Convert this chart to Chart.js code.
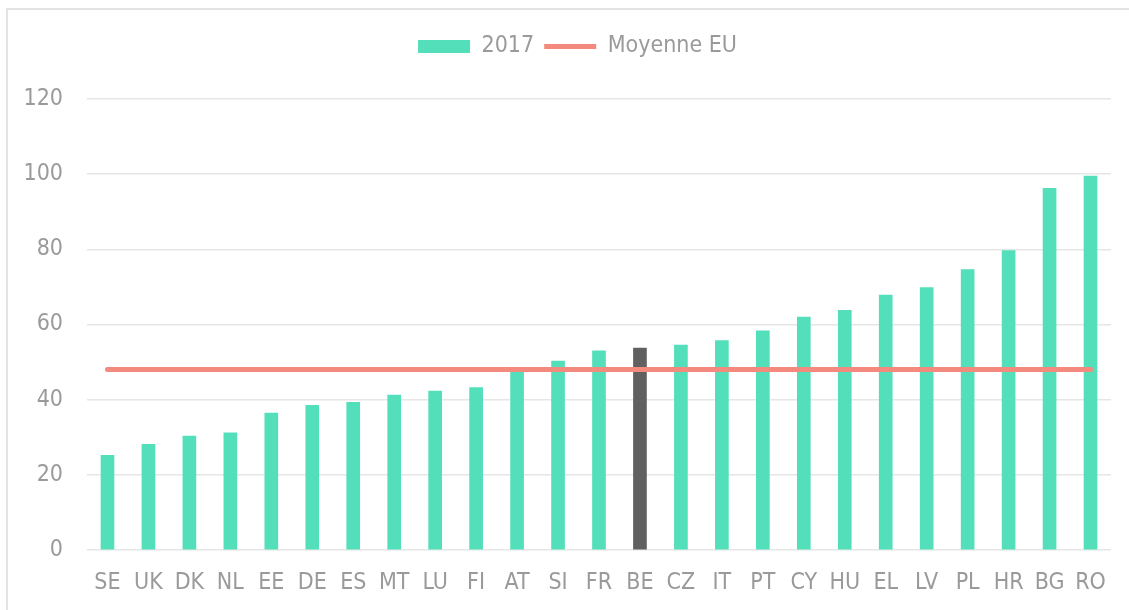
<!DOCTYPE html>
<html>
<head>
<meta charset="utf-8">
<title>2017 - Moyenne EU</title>
<script src="https://cdn.jsdelivr.net/npm/chart.js@4/dist/chart.umd.min.js"></script>
<style>
    html, body { margin: 0; padding: 0; background: #fff; overflow: hidden; }
    canvas { display: block; }
</style>
</head>
<body>
<canvas id="chart" width="1129" height="610"></canvas>
<script>
// --- DATA ---
const countries = ['SE', 'UK', 'DK', 'NL', 'EE', 'DE', 'ES', 'MT', 'LU', 'FI', 'AT', 'SI', 'FR',
    'BE', 'CZ', 'IT', 'PT', 'CY', 'HU', 'EL', 'LV', 'PL', 'HR', 'BG', 'RO'];
const values2017 = [25.2, 28.1, 30.3, 31.2, 36.4, 38.5, 39.3, 41.2, 42.3, 43.2, 47.3, 50.3, 53.0,
    53.7, 54.5, 55.7, 58.3, 62.0, 63.8, 67.8, 69.8, 74.6, 79.7, 96.2, 99.5];
const euAverage = 48.0;
const yTicks = [0, 20, 40, 60, 80, 100, 120];
const highlight = 'BE';

// --- COLOURS ---
const TEAL = '#52dfba';
const GREY_BAR = '#606060';
const SALMON = '#f38a7d';
const TEXT = '#9a9a9a';
const FONT = "'DejaVu Sans Condensed', 'DejaVu Sans', Tahoma, sans-serif";

// extra room under the legend (Excel puts the plot well below it),
// nudge the legend a bit right, and draw the chart frame (cut off right/bottom)
const excelLook = {
    id: 'excelLook',
    beforeInit(chart) {
        const fit = chart.legend.fit;
        chart.legend.fit = function () {
            fit.call(this);
            this.height += 31;
        };
    },
    afterLayout(chart) {
        chart.legend.left += 22;
        chart.legend.right += 22;
    },
    beforeDraw(chart) {
        const c = chart.ctx;
        c.save();
        c.strokeStyle = '#e3e3e3';
        c.lineWidth = 2;
        c.strokeRect(7, 9, 1300, 800);
        c.restore();
    }
};

const ctx = document.getElementById('chart').getContext('2d');

new Chart(ctx, {
    data: {
        labels: countries,
        datasets: [
            {
                type: 'bar',
                label: '2017',
                data: values2017,
                backgroundColor: countries.map(c => c === highlight ? GREY_BAR : TEAL),
                borderWidth: 0,
                barThickness: 13,
                pointStyle: 'rect',
                order: 1
            },
            {
                type: 'line',
                label: 'Moyenne EU',
                data: countries.map(() => euAverage),
                borderColor: SALMON,
                backgroundColor: SALMON,
                borderWidth: 5,
                borderCapStyle: 'round',
                pointRadius: 0,
                pointStyle: 'line',
                fill: false,
                order: 0
            }
        ]
    },
    options: {
        responsive: false,
        animation: false,
        layout: { padding: { top: 25, right: 18, bottom: 0, left: 0 } },
        plugins: {
            tooltip: { enabled: false },
            legend: {
                position: 'top',
                labels: {
                    usePointStyle: true,
                    pointStyleWidth: 52,
                    boxHeight: 13,
                    padding: 10,
                    color: TEXT,
                    font: { family: FONT, size: 23 },
                    sort: (a, b) => a.datasetIndex - b.datasetIndex
                }
            }
        },
        scales: {
            x: {
                offset: true,
                grid: { display: false, drawTicks: false },
                border: { display: false },
                ticks: {
                    color: TEXT,
                    font: { family: FONT, size: 23 },
                    padding: 19,
                    autoSkip: false,
                    maxRotation: 0
                },
                afterFit(scale) { scale.height = 60; }
            },
            y: {
                min: 0,
                max: 120,
                grid: { color: '#e6e6e6', lineWidth: 1.5, drawTicks: false },
                border: { display: false },
                afterBuildTicks(scale) { scale.ticks = yTicks.map(v => ({ value: v })); },
                ticks: {
                    color: TEXT,
                    font: { family: FONT, size: 23 },
                    padding: 24
                },
                afterFit(scale) { scale.width = 87; }
            }
        }
    },
    plugins: [excelLook]
});
</script>
</body>
</html>
